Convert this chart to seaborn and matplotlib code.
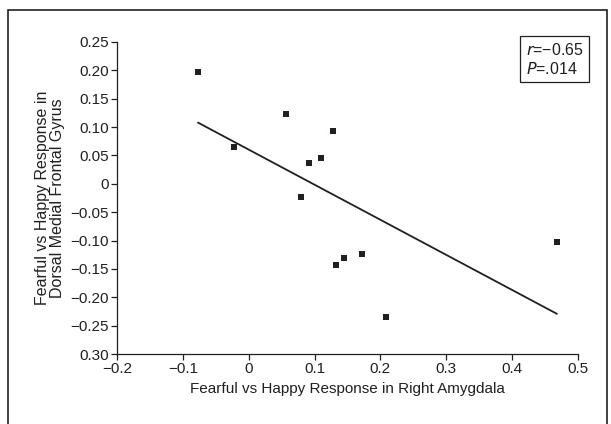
import seaborn as sns
import matplotlib.pyplot as plt
import pandas as pd
from matplotlib.patches import Rectangle

# values
amygdala = [-0.077, -0.023, 0.056, 0.128, 0.091, 0.109, 0.080, 0.132, 0.144, 0.172, 0.208, 0.468]
frontal = [0.197, 0.065, 0.123, 0.093, 0.037, 0.045, -0.023, -0.143, -0.131, -0.124, -0.234, -0.102]

x_ticks = [-0.2, -0.1, 0, 0.1, 0.2, 0.3, 0.4, 0.5]
x_labels = ['\u22120.2', '\u22120.1', '0', '0.1', '0.2', '0.3', '0.4', '0.5']
y_ticks = [0.25, 0.20, 0.15, 0.10, 0.05, 0, -0.05, -0.10, -0.15, -0.20, -0.25, -0.30]
y_labels = ['0.25', '0.20', '0.15', '0.10', '0.05', '0', '\u22120.05', '\u22120.10',
            '\u22120.15', '\u22120.20', '\u22120.25', '0.30']

df = pd.DataFrame({'amygdala': amygdala, 'frontal': frontal})

sns.set_style('ticks')
plt.rcParams['font.family'] = ['Liberation Sans', 'DejaVu Sans']
ink = '#231f20'

fig = plt.figure(figsize=(6.11, 4.24), dpi=100)
ax = fig.add_axes([0.1915, 0.165, 0.7545, 0.736])

sns.regplot(data=df, x='amygdala', y='frontal', ci=None, truncate=True, ax=ax,
            marker='s', scatter_kws={'s': 24, 'color': ink, 'linewidths': 0, 'alpha': 1},
            line_kws={'color': ink, 'linewidth': 1.3})

ax.set_xlim(-0.2, 0.5)
ax.set_ylim(-0.30, 0.25)
ax.set_xticks(x_ticks)
ax.set_xticklabels(x_labels)
ax.set_yticks(y_ticks)
ax.set_yticklabels(y_labels)
ax.tick_params(labelsize=11, length=4, width=0.9, color=ink, labelcolor=ink, pad=2)
for side in ['left', 'bottom']:
    ax.spines[side].set_color(ink)
    ax.spines[side].set_linewidth(0.9)
sns.despine(ax=ax)

ax.set_xlabel('Fearful vs Happy Response in Right Amygdala', fontsize=11, color=ink, labelpad=4)
ax.set_ylabel('Fearful vs Happy Response in\nDorsal Medial Frontal Gyrus', fontsize=11.5,
              color=ink, labelpad=4, linespacing=1.0)

ax.text(1.012, 1.0, '$r$=\u22120.65\n$P$=.014', transform=ax.transAxes, ha='right', va='top',
        multialignment='left', fontsize=11.5, color=ink, linespacing=1.2,
        bbox=dict(boxstyle='square,pad=0.35', facecolor='white', edgecolor=ink, linewidth=0.9))

# outer frame of the figure panel
fig.patches.append(Rectangle((8 / 611, -0.1), 599 / 611, 1.1 - 10 / 424, transform=fig.transFigure,
                             fill=False, edgecolor=ink, linewidth=1.2))

plt.savefig('out.png', dpi=100)
